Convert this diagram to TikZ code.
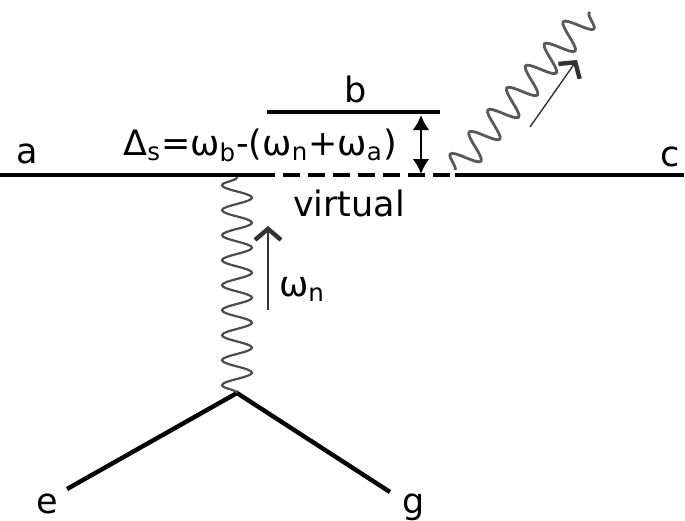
\documentclass[tikz,border=0pt]{standalone}
\usepackage{fontspec}
\setmainfont{DejaVu Sans}
\usetikzlibrary{arrows.meta,decorations.pathmorphing}
\begin{document}
\begin{tikzpicture}[x=0.5pt, y=-0.5pt,
        statelevel/.style={line width=2.2pt},
        photon/.style={draw=black!70, line width=1.1pt, decorate,
            decoration={snake, amplitude=7.5pt, segment length=12.5pt}},
        lbl/.style={font=\fontsize{17.5}{21}\selectfont, inner sep=0pt, anchor=base},
        kick/.style={draw=black!80, line width=0.7pt,
            -{Straight Barb[length=5.5pt, width=13pt, line width=2.2pt]}}
    ]
        \useasboundingbox (0,0) rectangle (685,520);
        % levels
        \coordinate (a0) at (0,175);
        \coordinate (v0) at (258,175);
        \coordinate (v1) at (450,175);
        \coordinate (c0) at (455,175);
        \coordinate (c1) at (684,175);
        \coordinate (b0) at (267,112);
        \coordinate (b1) at (440,112);
        \draw[statelevel] (a0) -- (v0);
        \draw[statelevel, dash pattern=on 8.5pt off 4pt] (v0) -- (v1);
        \draw[statelevel] (c0) -- (c1);
        \draw[statelevel] (b0) -- (b1);
        \node[lbl] (la) at (27,163) {a};
        \node[lbl] (lb) at (356,102) {b};
        \node[lbl] (lc) at (670,166) {c};
        \node[lbl] (virt) at (349,216) {virtual};
        % detuning
        \coordinate (d0) at (421,115);
        \coordinate (d1) at (421,174);
        \draw[line width=1.4pt, {Latex[length=7.5pt,width=8.5pt]}-{Latex[length=7.5pt,width=8.5pt]}] (d0) -- (d1);
        \node[lbl] (det) at (260,155) {Δ\textsubscript{s}=ω\textsubscript{b}-(ω\textsubscript{n}+ω\textsubscript{a})};
        % vertex
        \coordinate (vx) at (237,393);
        \coordinate (e0) at (67,489);
        \coordinate (g0) at (390,492);
        \draw[statelevel] (e0) -- (vx) -- (g0);
        \node[lbl] (le) at (47,513) {e};
        \node[lbl] (lg) at (414,513) {g};
        % incoming photon
        \coordinate (p0) at (237,177);
        \draw[photon] (vx) -- (p0);
        \coordinate (k0) at (268,310);
        \coordinate (k1) at (268,226);
        \draw[kick] (k0) -- (k1);
        \node[lbl] (wn) at (302,296) {ω\textsubscript{n}};
        % outgoing photon
        \coordinate (q0) at (455,170);
        \coordinate (q1) at (590,12);
        \draw[photon, draw=black!65, line width=1.4pt, decoration={snake, amplitude=7pt, segment length=14.5pt}] (q0) -- (q1);
        \coordinate (m0) at (530,127);
        \coordinate (m1) at (577,60);
        \draw[kick] (m0) -- (m1);
\end{tikzpicture}
\end{document}
